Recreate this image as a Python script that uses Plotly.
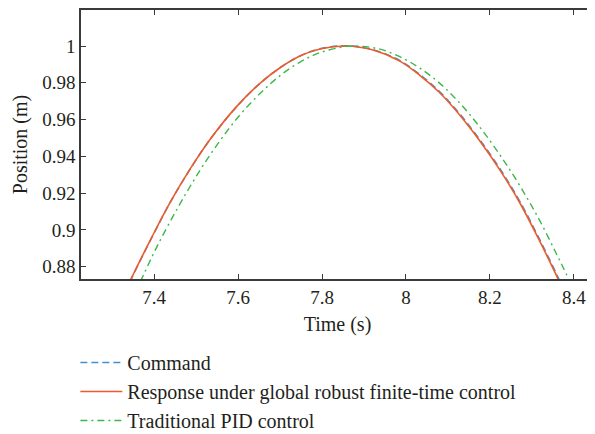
import plotly.graph_objects as go

# Time samples (s) and positions (m)
t_resp = [7.32, 7.345, 7.3945, 7.438, 7.4857, 7.533, 7.5968, 7.652, 7.6998, 7.7474, 7.795,
          7.8585, 7.9218, 7.9853, 8.0329, 8.0805, 8.128, 8.1756, 8.2232, 8.2708, 8.3184,
          8.362, 8.39]
y_resp = [0.8612, 0.8734, 0.8961, 0.9150, 0.9332, 0.9492, 0.9672, 0.9797, 0.9882, 0.9946, 0.9984,
          1.0000, 0.9978, 0.9918, 0.9841, 0.9746, 0.9625, 0.9485, 0.9328, 0.9149, 0.8940,
          0.8735, 0.8596]

t_cmd = [7.32, 7.345, 7.3945, 7.438, 7.4857, 7.533, 7.5968, 7.652, 7.6998, 7.7474, 7.795,
         7.8585, 7.9218, 7.9853, 8.0329, 8.0805, 8.128, 8.1756, 8.2232, 8.2708, 8.3184,
         8.362, 8.39]
y_cmd = [0.8610, 0.8732, 0.8959, 0.9149, 0.9331, 0.9491, 0.9671, 0.9797, 0.9882, 0.9946, 0.9985,
         1.0001, 0.9980, 0.9921, 0.9845, 0.9751, 0.9631, 0.9491, 0.9335, 0.9157, 0.8948,
         0.8744, 0.8605]

t_pid = [7.35, 7.3722, 7.4064, 7.4578, 7.5094, 7.557, 7.6046, 7.6522, 7.6998, 7.7474, 7.795,
         7.8585, 7.8901, 7.9377, 7.9853, 8.0329, 8.0805, 8.128, 8.1756, 8.2232, 8.2708,
         8.3184, 8.3581, 8.3819, 8.41]
y_pid = [0.8637, 0.8744, 0.8908, 0.9127, 0.9325, 0.9486, 0.9626, 0.9742, 0.9839, 0.9913, 0.9964,
         0.9998, 0.9999, 0.9983, 0.9942, 0.9880, 0.9797, 0.9690, 0.9560, 0.9410, 0.9242,
         0.9052, 0.8872, 0.8760, 0.8622]

x_ticks = [7.4, 7.6, 7.8, 8, 8.2, 8.4]
x_tick_labels = ["7.4", "7.6", "7.8", "8", "8.2", "8.4"]
y_ticks = [0.88, 0.9, 0.92, 0.94, 0.96, 0.98, 1]
y_tick_labels = ["0.88", "0.9", "0.92", "0.94", "0.96", "0.98", "1"]

FONT = "Liberation Serif, Times New Roman, serif"
TXT = "#231f20"
AX = "#3a3a3a"

fig = go.Figure()
fig.add_trace(go.Scatter(x=t_cmd, y=y_cmd, mode="lines", name="Command",
                         line=dict(color="#3d92d4", width=1.6, dash="7px,4px"),
                         line_shape="spline", legendgroup="a"))
fig.add_trace(go.Scatter(x=t_resp, y=y_resp, mode="lines",
                         name="Response under global robust finite-time control",
                         line=dict(color="#f05a28", width=1.6),
                         line_shape="spline", legendgroup="b"))
fig.add_trace(go.Scatter(x=t_pid, y=y_pid, mode="lines", name="Traditional PID control",
                         line=dict(color="#3cb84a", width=1.4, dash="7px,4px,2px,4px"),
                         line_shape="spline", legendgroup="c"))

axis_common = dict(showgrid=False, zeroline=False, showline=True, linecolor=AX, linewidth=1.5,
                   mirror="ticks", ticks="inside", ticklen=5, tickwidth=1.2, tickcolor=AX,
                   tickfont=dict(family=FONT, size=19, color=TXT))

# page body has an 8px margin, so the figure is shrunk by 8px to fit the window
fig.update_layout(
    width=587, height=426,
    margin=dict(l=73, r=1, t=2, b=155, autoexpand=False),
    paper_bgcolor="white", plot_bgcolor="white",
    font=dict(family=FONT, size=19, color=TXT),
    xaxis=dict(range=[7.2256, 8.448], tickvals=x_ticks, ticktext=x_tick_labels,
               title=dict(text="Time (s)", font=dict(family=FONT, size=20, color=TXT), standoff=10),
               **axis_common),
    yaxis=dict(range=[0.8733, 1.0196], tickvals=y_ticks, ticktext=y_tick_labels,
               title=dict(text="Position (m)", font=dict(family=FONT, size=20, color=TXT), standoff=9),
               **axis_common),
    showlegend=True,
    legend=dict(x=-0.011, y=-0.238, xanchor="left", yanchor="top",
                font=dict(family=FONT, size=20, color=TXT),
                bgcolor="rgba(0,0,0,0)", tracegroupgap=0, itemwidth=42),
)

fig.write_html("out.html")
